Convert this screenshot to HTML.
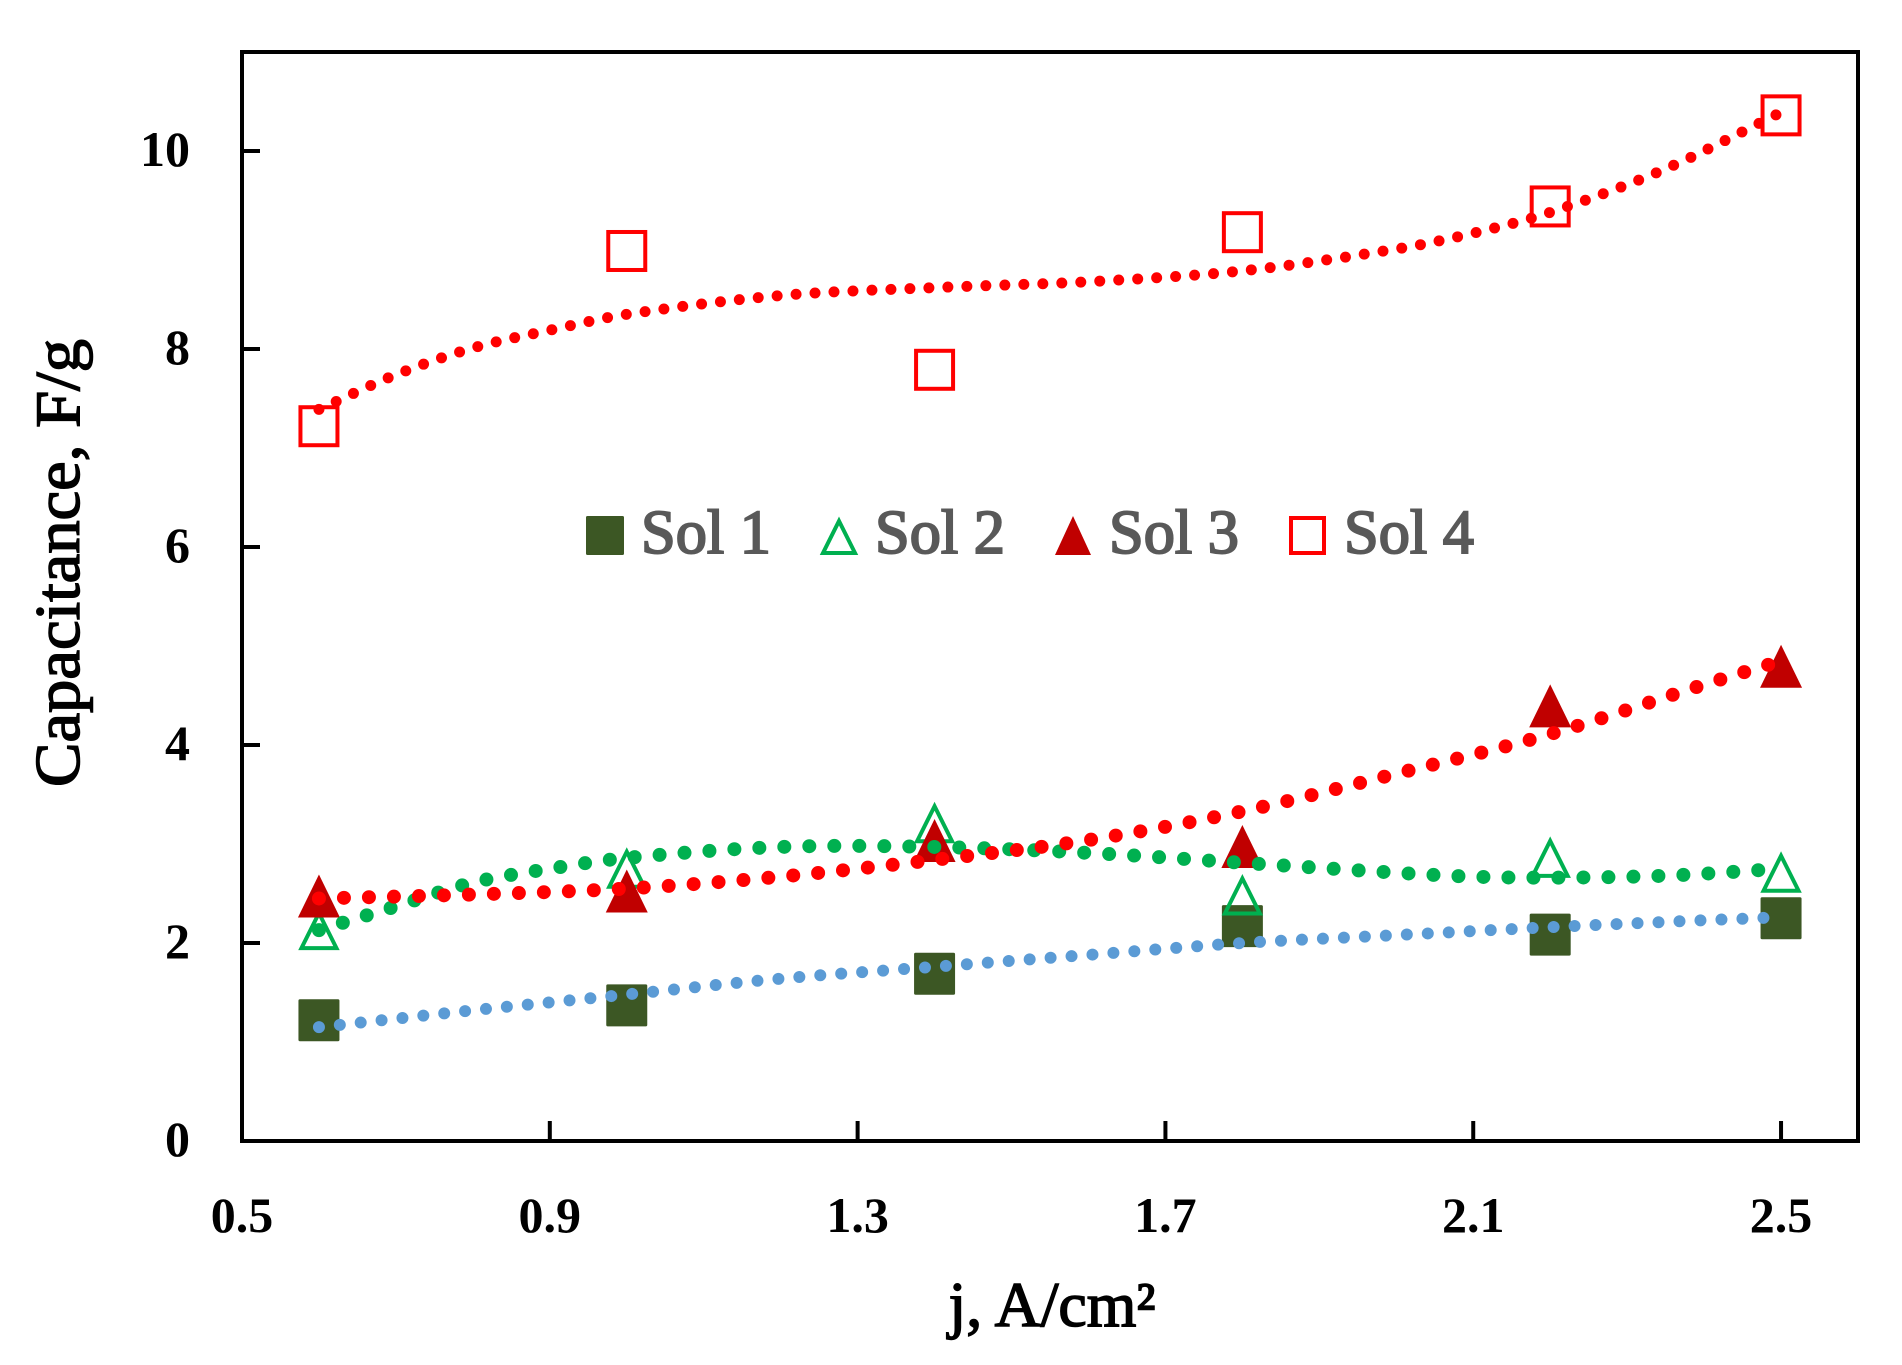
<!DOCTYPE html>
<html lang="en">
<head>
<meta charset="utf-8">
<title>Capacitance vs current density</title>
<style>
html,body{margin:0;padding:0;background:#fff;width:1902px;height:1365px;overflow:hidden}
svg{display:block}
text{font-family:"Liberation Serif",serif;font-weight:bold}
text.title{font-weight:normal;stroke:#000;stroke-width:1.5}
text.legend-label{font-weight:normal;stroke:#595959;stroke-width:2}
</style>
</head>
<body>
<svg id="chart" xmlns="http://www.w3.org/2000/svg" width="1902" height="1365" viewBox="0 0 1902 1365">
  <rect x="0" y="0" width="1902" height="1365" fill="#ffffff"/>
  <g id="markers"></g>
  <g id="trends"></g>
  <rect x="242" y="52" width="1616" height="1089" fill="none" stroke="#000" stroke-width="4"/>
  <g id="ticks"></g>
  <text class="title" x="1052" y="1326" font-size="64" text-anchor="middle" textLength="207" lengthAdjust="spacingAndGlyphs" fill="#000">j, A/cm²</text>
  <text class="title" transform="translate(79,563) rotate(-90)" font-size="64" text-anchor="middle" textLength="448" lengthAdjust="spacingAndGlyphs" fill="#000">Capacitance, F/g</text>
  <g>
    <rect x="586" y="516" width="38" height="39" rx="1.5" fill="#3C5724"/>
    <text class="legend-label" x="641" y="553" font-size="62" textLength="130" lengthAdjust="spacingAndGlyphs" fill="#595959">Sol 1</text>
    <path d="M839 521 L855 553 L823 553 Z" fill="none" stroke="#00B050" stroke-width="4"/>
    <text class="legend-label" x="875" y="553" font-size="62" textLength="130" lengthAdjust="spacingAndGlyphs" fill="#595959">Sol 2</text>
    <path d="M1073 516 L1091 555 L1055 555 Z" fill="#C00000"/>
    <text class="legend-label" x="1109" y="553" font-size="62" textLength="130" lengthAdjust="spacingAndGlyphs" fill="#595959">Sol 3</text>
    <rect x="1291" y="518" width="33" height="35" fill="none" stroke="#FF0000" stroke-width="4"/>
    <text class="legend-label" x="1344" y="553" font-size="62" textLength="130" lengthAdjust="spacingAndGlyphs" fill="#595959">Sol 4</text>
  </g>
</svg>
<script>
// Chart data
const currentDensity = [0.6, 1.0, 1.4, 1.8, 2.2, 2.5];
const sol1Values = [1.22, 1.37, 1.69, 2.17, 2.085, 2.25];
const sol2Values = [2.14, 2.76, 3.22, 2.49, 2.87, 2.72];
const sol3Values = [2.47, 2.52, 3.03, 2.97, 4.39, 4.79];
const sol4Values = [7.22, 8.99, 7.79, 9.18, 9.44, 10.36];

const sol1TrendX = [0.6, 0.8, 1.0, 1.2, 1.4, 1.6, 1.8, 2.0, 2.2, 2.4, 2.5];
const sol1Trend = [1.15, 1.32, 1.48, 1.64, 1.76, 1.88, 2.0, 2.08, 2.16, 2.23, 2.26];
const sol2TrendX = [0.6, 0.7, 0.8, 0.9, 1.0, 1.2, 1.4, 1.6, 1.8, 2.0, 2.1, 2.2, 2.35, 2.5];
const sol2Trend = [2.13, 2.37, 2.61, 2.75, 2.86, 2.97, 2.97, 2.91, 2.81, 2.71, 2.67, 2.66, 2.68, 2.75];
const sol3TrendX = [0.6, 0.8, 1.0, 1.2, 1.4, 1.6, 1.8, 2.0, 2.2, 2.4, 2.5];
const sol3Trend = [2.45, 2.49, 2.55, 2.67, 2.84, 3.04, 3.33, 3.71, 4.11, 4.61, 4.85];
const sol4TrendX = [0.6, 0.7, 0.8, 0.9, 1.0, 1.2, 1.4, 1.6, 1.8, 2.0, 2.1, 2.2, 2.35, 2.5];
const sol4Trend = [7.39, 7.74, 8.01, 8.19, 8.35, 8.54, 8.62, 8.68, 8.79, 9.01, 9.17, 9.38, 9.82, 10.39];

const xTickLabels = ['0.5', '0.9', '1.3', '1.7', '2.1', '2.5'];
const yTickLabels = ['0', '2', '4', '6', '8', '10'];

const NS = 'http://www.w3.org/2000/svg';
const xScale = v => 242 + (v - 0.5) * (1616 / 2.1);
const yScale = v => 1141 - v * 99;

function make(tag, attrs, parent) {
  const el = document.createElementNS(NS, tag);
  for (const k in attrs) el.setAttribute(k, attrs[k]);
  parent.appendChild(el);
  return el;
}

const markerLayer = document.getElementById('markers');
const trendLayer = document.getElementById('trends');
const tickLayer = document.getElementById('ticks');

// Sol 1: filled squares
sol1Values.forEach((v, i) => {
  const cx = xScale(currentDensity[i]), cy = yScale(v);
  const el = make('rect', {x: cx - 20.5, y: cy - 21, width: 41, height: 42, rx: 1.5, fill: '#3C5724'}, markerLayer);
  
  
});
// Sol 2: open triangles
sol2Values.forEach((v, i) => {
  const cx = xScale(currentDensity[i]), cy = yScale(v);
  const el = make('path', {d: `M${cx} ${cy - 16} L${cx + 17.5} ${cy + 19} L${cx - 17.5} ${cy + 19} Z`, fill: 'none', stroke: '#00B050', 'stroke-width': 4, 'stroke-miterlimit': 6}, markerLayer);
  
  
});
// Sol 3: filled triangles
sol3Values.forEach((v, i) => {
  const cx = xScale(currentDensity[i]), cy = yScale(v);
  const el = make('path', {d: `M${cx} ${cy - 22} L${cx + 21} ${cy + 21} L${cx - 21} ${cy + 21} Z`, fill: '#C00000'}, markerLayer);
  
  
});
// Sol 4: open squares
sol4Values.forEach((v, i) => {
  const cx = xScale(currentDensity[i]), cy = yScale(v);
  const el = make('rect', {x: cx - 18.5, y: cy - 19, width: 37, height: 38, fill: 'none', stroke: '#FF0000', 'stroke-width': 4}, markerLayer);
  
  
});

// Smooth path through trend readings
function curve(xs, ys) {
  const px = xs.map(xScale), py = ys.map(yScale), n = px.length;
  const slope = i => {
    const a = Math.max(0, i - 1), b = Math.min(n - 1, i + 1);
    return (py[b] - py[a]) / (px[b] - px[a]);
  };
  let d = `M${px[0]} ${py[0]}`;
  for (let i = 0; i < n - 1; i++) {
    const h = (px[i + 1] - px[i]) / 3;
    d += ` C${px[i] + h} ${py[i] + slope(i) * h} ${px[i + 1] - h} ${py[i + 1] - slope(i + 1) * h} ${px[i + 1]} ${py[i + 1]}`;
  }
  return d;
}

const trend1 = make('path', {d: curve(sol1TrendX, sol1Trend), fill: 'none', stroke: '#5B9BD5', 'stroke-width': 12, 'stroke-linecap': 'round', 'stroke-dasharray': '0 21'}, trendLayer);


const trend2 = make('path', {d: curve(sol2TrendX, sol2Trend), fill: 'none', stroke: '#00B050', 'stroke-width': 14, 'stroke-linecap': 'round', 'stroke-dasharray': '0 25'}, trendLayer);


const trend3 = make('path', {d: curve(sol3TrendX, sol3Trend), fill: 'none', stroke: '#FF0000', 'stroke-width': 14, 'stroke-linecap': 'round', 'stroke-dasharray': '0 25'}, trendLayer);


const trend4 = make('path', {d: curve(sol4TrendX, sol4Trend), fill: 'none', stroke: '#FF0000', 'stroke-width': 11, 'stroke-linecap': 'round', 'stroke-dasharray': '0 19'}, trendLayer);



// Axis ticks and labels
xTickLabels.forEach(label => {
  const x = xScale(parseFloat(label));
  const tick = make('line', {x1: x, x2: x, y1: 1141, y2: 1121, stroke: '#000', 'stroke-width': 4}, tickLayer);
  
  
  const text = make('text', {x: x, y: 1232, 'font-size': 50, 'text-anchor': 'middle', fill: '#000'}, tickLayer);
  text.textContent = label;
  
  
});
yTickLabels.forEach(label => {
  const y = yScale(parseFloat(label));
  const tick = make('line', {x1: 242, x2: 260, y1: y, y2: y, stroke: '#000', 'stroke-width': 4}, tickLayer);
  
  
  const text = make('text', {x: 190, y: y + 15, 'font-size': 50, 'text-anchor': 'end', fill: '#000'}, tickLayer);
  text.textContent = label;
  
  
});
</script>
</body>
</html>
